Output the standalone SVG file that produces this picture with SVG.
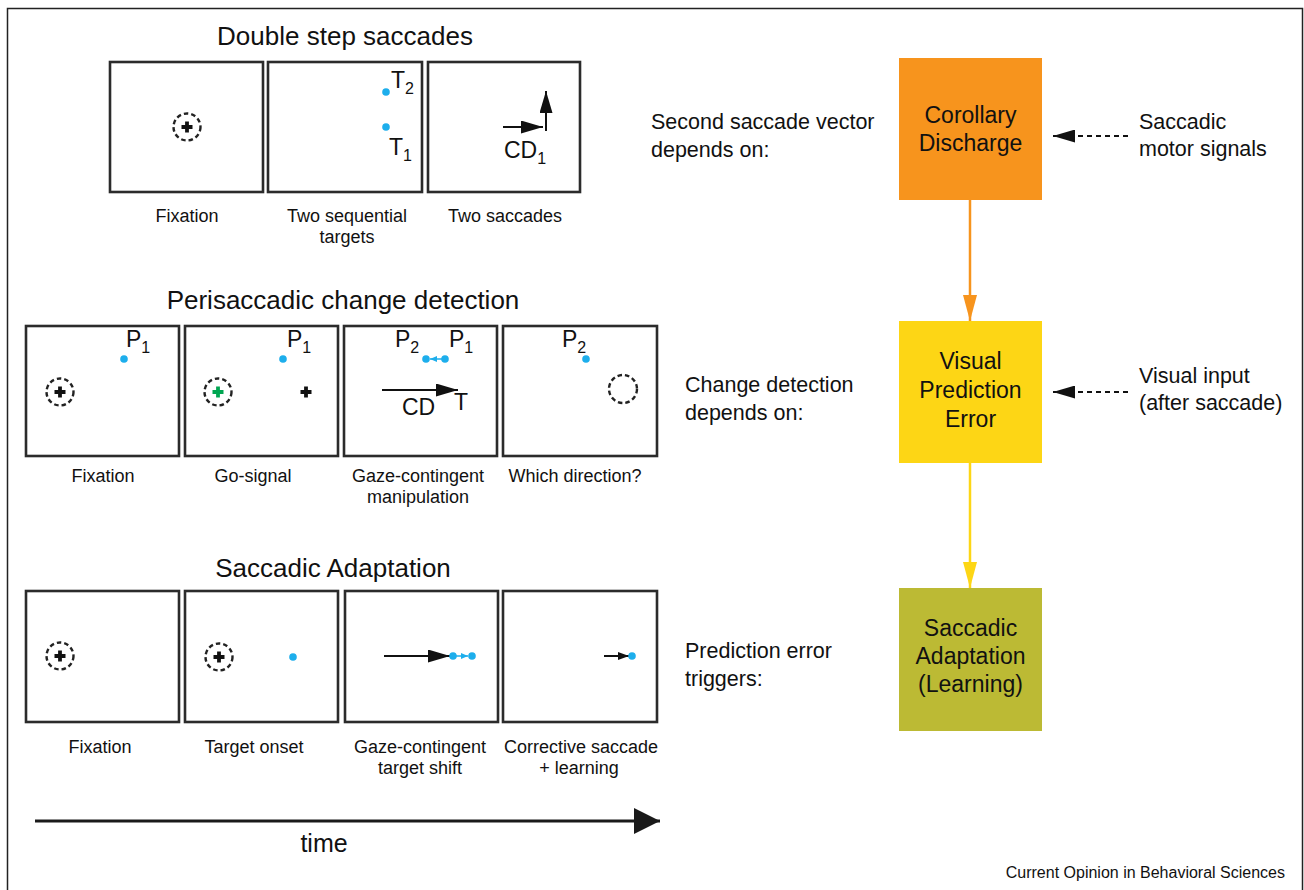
<svg xmlns="http://www.w3.org/2000/svg" width="1304" height="890" viewBox="0 0 1304 890">
<style>
text{font-family:"Liberation Sans",Arial,sans-serif;fill:#111}
.lab{font-size:18px;text-anchor:middle}
.title{font-size:26px;text-anchor:middle}
.side{font-size:21.5px}
.box{font-size:23px;text-anchor:middle}
.sym{font-size:23px}
.sub{font-size:16px}
.panel{fill:#fff;stroke:#2b2b2b;stroke-width:2.6}
.dc{fill:none;stroke:#222;stroke-width:2.4;stroke-dasharray:4.5 3}
.dot{fill:#1daeec}
.blk{stroke:#111;stroke-width:2;fill:none}
.blu{stroke:#1daeec;stroke-width:1.5;fill:none}
</style>
<defs>
<marker id="ah" markerUnits="userSpaceOnUse" markerWidth="22" markerHeight="13" refX="22" refY="6.5" orient="auto"><path d="M0,0 L22,6.5 L0,13 z" fill="#111"/></marker>
<marker id="ahs" markerUnits="userSpaceOnUse" markerWidth="11" markerHeight="8" refX="11" refY="4" orient="auto"><path d="M0,0 L11,4 L0,8 z" fill="#111"/></marker>
<marker id="ahb" markerUnits="userSpaceOnUse" markerWidth="7" markerHeight="6" refX="7" refY="3" orient="auto"><path d="M0,0 L7,3 L0,6 z" fill="#1daeec"/></marker>
<marker id="aho" markerUnits="userSpaceOnUse" markerWidth="26" markerHeight="14" refX="26" refY="7" orient="auto"><path d="M0,0 L26,7 L0,14 z" fill="#f7941d"/></marker>
<marker id="ahy" markerUnits="userSpaceOnUse" markerWidth="26" markerHeight="14" refX="26" refY="7" orient="auto"><path d="M0,0 L26,7 L0,14 z" fill="#fdd615"/></marker>
<marker id="aht" markerUnits="userSpaceOnUse" markerWidth="26" markerHeight="26" refX="26" refY="13" orient="auto"><path d="M0,0 L26,13 L0,26 z" fill="#1a1a1a"/></marker>
<g id="cross"><path d="M-1.9,-5.5 h3.8 v3.6 h3.6 v3.8 h-3.6 v3.6 h-3.8 v-3.6 h-3.6 v-3.8 h3.6 z"/></g>
</defs>
<rect width="1304" height="890" fill="#fff"/>
<rect x="7.5" y="8.5" width="1295" height="900" fill="none" stroke="#222" stroke-width="1.5"/>

<!-- Double step saccades -->
<g id="row1">
<text class="title" x="345" y="45">Double step saccades</text>
<g id="r1p1"><rect class="panel" x="110" y="62" width="153" height="130"/><circle class="dc" cx="187" cy="127" r="13.5"/><use href="#cross" x="187" y="127" fill="#111"/><text class="lab" x="187" y="222">Fixation</text></g>
<g id="r1p2"><rect class="panel" x="268" y="62" width="154" height="130"/><circle class="dot" cx="386" cy="92" r="3.8"/><circle class="dot" cx="386" cy="127" r="3.8"/>
<text class="sym" x="391" y="88">T<tspan class="sub" dy="6">2</tspan></text>
<text class="sym" x="389" y="155">T<tspan class="sub" dy="6">1</tspan></text>
<text class="lab" x="347" y="222">Two sequential</text><text class="lab" x="347" y="243">targets</text></g>
<g id="r1p3"><rect class="panel" x="428" y="62" width="152" height="130"/>
<line class="blk" x1="503" y1="127" x2="543" y2="127" marker-end="url(#ah)"/>
<line class="blk" x1="546" y1="131" x2="546" y2="91" marker-end="url(#ah)"/>
<text class="sym" x="504" y="158">CD<tspan class="sub" dy="6">1</tspan></text>
<text class="lab" x="505" y="222">Two saccades</text></g>
</g>

<!-- Perisaccadic change detection -->
<g id="row2">
<text class="title" x="343" y="309">Perisaccadic change detection</text>
<g id="r2p1"><rect class="panel" x="26" y="326" width="153" height="130"/><circle class="dot" cx="124" cy="359" r="3.8"/><text class="sym" x="126" y="347">P<tspan class="sub" dy="6">1</tspan></text><circle class="dc" cx="60" cy="392" r="13.5"/><use href="#cross" x="60" y="392" fill="#111"/><text class="lab" x="103" y="482">Fixation</text></g>
<g id="r2p2"><rect class="panel" x="185" y="326" width="153" height="130"/><circle class="dot" cx="283" cy="359" r="3.8"/><text class="sym" x="287" y="347">P<tspan class="sub" dy="6">1</tspan></text><circle class="dc" cx="218" cy="392" r="13.5"/><use href="#cross" x="218" y="392" fill="#00a651"/><use href="#cross" x="306" y="392" fill="#111"/><text class="lab" x="253" y="482">Go-signal</text></g>
<g id="r2p3"><rect class="panel" x="344" y="326" width="153" height="130"/><text class="sym" x="395" y="347">P<tspan class="sub" dy="6">2</tspan></text><text class="sym" x="449" y="347">P<tspan class="sub" dy="6">1</tspan></text><circle class="dot" cx="426" cy="359" r="3.8"/><circle class="dot" cx="445" cy="359" r="3.8"/><line class="blu" x1="442" y1="359" x2="430" y2="359" marker-end="url(#ahb)"/>
<line class="blk" x1="382" y1="390" x2="458" y2="390" marker-end="url(#ah)"/>
<text class="sym" x="402" y="415">CD</text><text class="sym" x="454" y="410">T</text>
<text class="lab" x="418" y="482">Gaze-contingent</text><text class="lab" x="418" y="503">manipulation</text></g>
<g id="r2p4"><rect class="panel" x="503" y="326" width="154" height="130"/><text class="sym" x="562" y="347">P<tspan class="sub" dy="6">2</tspan></text><circle class="dot" cx="586" cy="359" r="3.8"/><circle class="dc" cx="623" cy="389" r="14"/><text class="lab" x="575" y="482">Which direction?</text></g>
</g>

<!-- Saccadic Adaptation -->
<g id="row3">
<text class="title" x="333" y="577">Saccadic Adaptation</text>
<g id="r3p1"><rect class="panel" x="26" y="591" width="153" height="131"/><circle class="dc" cx="60" cy="656" r="13.5"/><use href="#cross" x="60" y="656" fill="#111"/><text class="lab" x="100" y="753">Fixation</text></g>
<g id="r3p2"><rect class="panel" x="185" y="591" width="153" height="131"/><circle class="dc" cx="219" cy="657" r="13.5"/><use href="#cross" x="219" y="657" fill="#111"/><circle class="dot" cx="293" cy="657" r="3.8"/><text class="lab" x="254" y="753">Target onset</text></g>
<g id="r3p3"><rect class="panel" x="345" y="591" width="153" height="131"/><line class="blk" x1="384" y1="656" x2="450" y2="656" marker-end="url(#ah)"/><circle class="dot" cx="453" cy="656" r="3.8"/><circle class="dot" cx="472" cy="656" r="3.8"/><line class="blu" x1="456" y1="656" x2="468" y2="656" marker-end="url(#ahb)"/><text class="lab" x="420" y="753">Gaze-contingent</text><text class="lab" x="420" y="774">target shift</text></g>
<g id="r3p4"><rect class="panel" x="503" y="591" width="154" height="131"/><line class="blk" x1="604" y1="656" x2="629" y2="656" stroke-width="1.5" marker-end="url(#ahs)"/><circle class="dot" cx="632" cy="656" r="3.8"/><text class="lab" x="581" y="753">Corrective saccade</text><text class="lab" x="579" y="774">+ learning</text></g>
</g>

<!-- time -->
<g id="time"><line x1="35" y1="821" x2="660" y2="821" stroke="#1a1a1a" stroke-width="3" marker-end="url(#aht)"/><text x="324" y="852" style="font-size:25px;text-anchor:middle">time</text></g>

<!-- side texts -->
<g id="sidetexts">
<text class="side" x="651" y="129">Second saccade vector</text><text class="side" x="651" y="157">depends on:</text>
<text class="side" x="685" y="392">Change detection</text><text class="side" x="685" y="420">depends on:</text>
<text class="side" x="685" y="658">Prediction error</text><text class="side" x="685" y="686">triggers:</text>
<text class="side" x="1139" y="129">Saccadic</text><text class="side" x="1139" y="156">motor signals</text>
<text class="side" x="1139" y="383">Visual input</text><text class="side" x="1139" y="410">(after saccade)</text>
</g>

<!-- boxes -->
<g id="cd"><rect x="899" y="58" width="143" height="142" fill="#f7941d"/><text class="box" x="970.5" y="123">Corollary</text><text class="box" x="970.5" y="151">Discharge</text></g>
<g id="vpe"><rect x="899" y="321" width="143" height="142" fill="#fdd615"/><text class="box" x="970.5" y="369">Visual</text><text class="box" x="970.5" y="398">Prediction</text><text class="box" x="970.5" y="427">Error</text></g>
<g id="sa"><rect x="899" y="588" width="143" height="143" fill="#bcba34"/><text class="box" x="970.5" y="636">Saccadic</text><text class="box" x="970.5" y="664">Adaptation</text><text class="box" x="970.5" y="692">(Learning)</text></g>

<!-- connectors -->
<g id="connectors">
<line x1="970" y1="200" x2="970" y2="321" stroke="#f7941d" stroke-width="2.5" marker-end="url(#aho)"/>
<line x1="970" y1="463" x2="970" y2="588" stroke="#fdd615" stroke-width="2.5" marker-end="url(#ahy)"/>
<line x1="1128" y1="136" x2="1053" y2="136" stroke="#111" stroke-width="2" stroke-dasharray="5 4" marker-end="url(#ah)"/>
<line x1="1128" y1="392" x2="1053" y2="392" stroke="#111" stroke-width="2" stroke-dasharray="5 4" marker-end="url(#ah)"/>
</g>

<text x="1285" y="878" style="font-size:16px;text-anchor:end">Current Opinion in Behavioral Sciences</text>
</svg>
